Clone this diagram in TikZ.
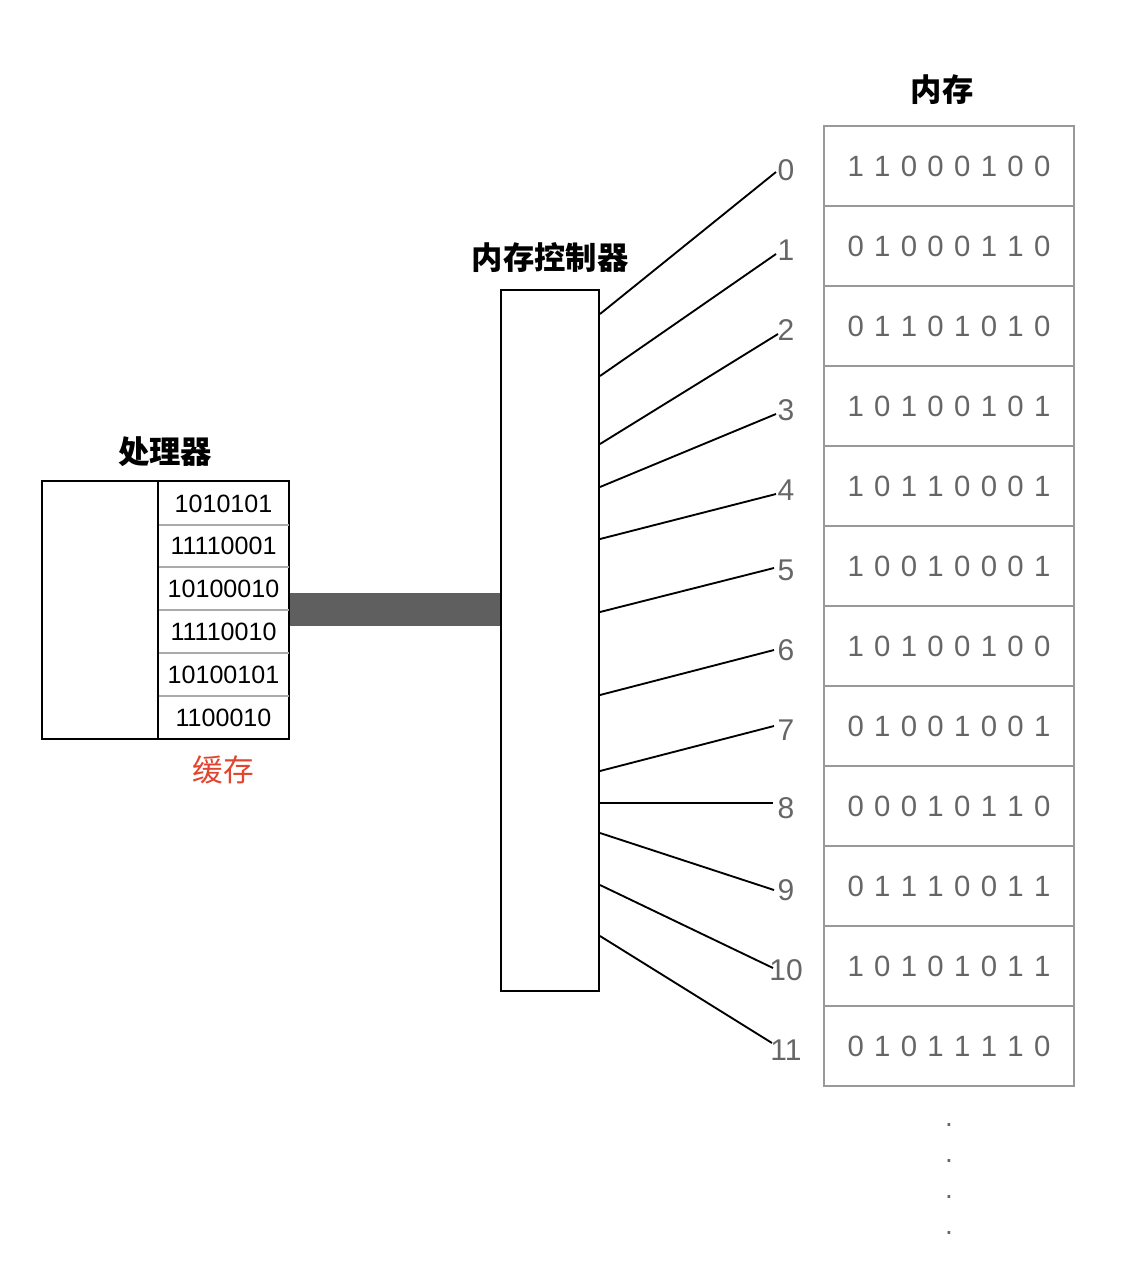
\documentclass[tikz,border=0pt]{standalone}
\usepackage{fontspec}
\setmainfont{Liberation Sans}
\newfontfamily\cjk{Noto Sans CJK SC}
\definecolor{memgray}{HTML}{999999}
\definecolor{txtgray}{HTML}{666666}
\definecolor{sepgray}{HTML}{AAAAAA}
\definecolor{busgray}{HTML}{5F5F5F}
\definecolor{cachered}{HTML}{E2452F}
\def\bitrow#1{\bitrowi#1\relax}
\def\bitrowi#1{\ifx#1\relax\else\makebox[20pt]{#1}\expandafter\bitrowi\fi}
\begin{document}
\begin{tikzpicture}[x=0.75pt,y=-0.75pt,
  title/.style={font=\cjk\bfseries\fontsize{23.5pt}{27pt}\selectfont, inner sep=0pt},
  cachecell/.style={minimum width=131*0.75pt, minimum height=43*0.75pt, inner sep=0pt,
     font=\fontsize{18.8pt}{21pt}\selectfont},
  memcell/.style={draw=memgray, line width=1.5pt, minimum width=250*0.75pt, minimum height=80*0.75pt,
     inner sep=0pt, text=txtgray, font=\fontsize{22pt}{25pt}\selectfont},
  addr/.style={inner sep=0pt, text=txtgray, font=\fontsize{22.5pt}{25pt}\selectfont},
  wire/.style={line width=1.4pt, black},
  bus/.style={line width=33*0.75pt, busgray},
  dotmark/.style={inner sep=0pt, text=txtgray, font=\fontsize{21pt}{24pt}\selectfont}
]
\useasboundingbox (0,0) rectangle (1122,1272);

% processor
\node[title] (proctitle) at (165,452) {处理器};
\node[draw, line width=1.8pt, minimum width=247*0.75pt, minimum height=258*0.75pt, inner sep=0pt] (proc) at (165.5,610) {};
\foreach \v [count=\i from 0] in {1010101,11110001,10100010,11110010,10100101,1100010} {
  \node[cachecell] (c\i) at (223.5,503.5+42.83*\i) {\v};
}
\foreach \i in {1,...,5} {
  \draw[sepgray, line width=1.5pt] (c\i.north west) -- (c\i.north east);
}
\draw[line width=1.8pt] (c0.north west) -- (c5.south west);
\node[inner sep=0pt, text=cachered, font=\cjk\fontsize{23pt}{26pt}\selectfont] (cachelbl) at (223,770) {缓存};

% controller
\node[title] (ctrltitle) at (550,258) {内存控制器};
\node[draw, line width=1.5pt, minimum width=98*0.75pt, minimum height=701*0.75pt, inner sep=0pt] (ctrl) at (550,640.5) {};

% bus
\draw[bus] (proc.east |- 0,609.5) -- (ctrl.west |- 0,609.5);

% memory
\node[title] (memtitle) at (942,90) {内存};
\foreach \v [count=\i from 0] in {11000100,01000110,01101010,10100101,10110001,10010001,10100100,01001001,00010110,01110011,10101011,01011110} {
  \node[memcell] (m\i) at (949,166+80*\i) {\expandafter\bitrow\expandafter{\v}};
}

% address labels and wires
\foreach \i/\ly/\sy/\ex/\ey in {0/170/314/776/172, 1/250/376/776/254, 2/330/444/778/334, 3/410/487/776/414,
  4/490/539/776/494, 5/570/612/774/568, 6/650/695/774/650, 7/730/771/774/726, 8/808/803/773/803,
  9/890/833/774/890, 10/970/885/773/968, 11/1050/936/772/1043} {
  \node[addr] (a\i) at (786,\ly) {\i};
  \coordinate (e\i) at (\ex,\ey);
  \draw[wire] (ctrl.east |- 0,\sy) -- (e\i);
}

% dots
\foreach \y [count=\i] in {1125,1161,1197,1233} {
  \node[dotmark] (d\i) at (949,\y) {.};
}
\end{tikzpicture}
\end{document}
